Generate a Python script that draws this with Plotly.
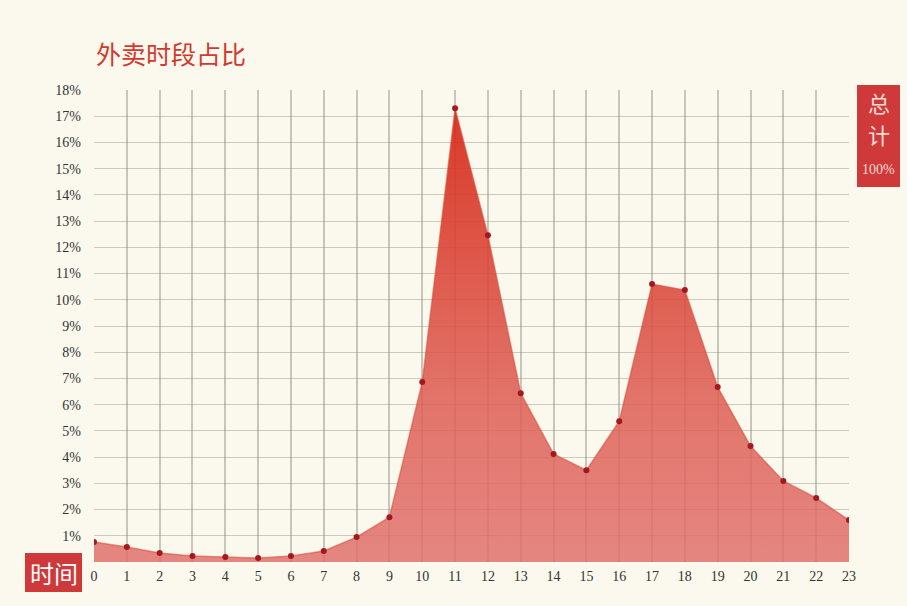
import plotly.graph_objects as go

hours = list(range(24))
share = [0.76, 0.57, 0.34, 0.23, 0.19, 0.15, 0.23, 0.42, 0.95, 1.71,
         6.86, 17.3, 12.46, 6.44, 4.12, 3.50, 5.37, 10.6, 10.37, 6.67,
         4.42, 3.09, 2.44, 1.60]
y_ticks = list(range(1, 19))
y_tick_text = [f"{v}%" for v in y_ticks]

BG = "#FBF9EE"
RED = "#D0393A"
TAG_TEXT = "#F6DCD4"

fig = go.Figure()
fig.add_trace(go.Scatter(
    x=hours, y=share, mode="lines+markers",
    line=dict(color="rgba(215,80,60,0.6)", width=1.5),
    marker=dict(color="#A3191F", size=6),
    fill="tozeroy",
    fillgradient=dict(
        type="vertical",
        colorscale=[[0, "rgba(224,112,108,0.84)"],
                    [0.35, "rgba(222,95,85,0.86)"],
                    [1, "rgba(214,40,22,0.92)"]],
    ),
    hoverinfo="skip",
))

fig.update_layout(
    width=907, height=606,
    paper_bgcolor=BG, plot_bgcolor=BG,
    margin=dict(l=94, r=58, t=90, b=44),
    showlegend=False,
    font=dict(family="Liberation Serif", size=14, color="#333333"),
    xaxis=dict(
        range=[0, 23], tickmode="array", tickvals=hours,
        ticktext=[str(h) for h in hours],
        showgrid=True, gridcolor="rgba(125,120,110,0.4)", gridwidth=1.6,
        zeroline=False, showline=False, ticks="", ticklabelstandoff=4,
        tickfont=dict(family="Liberation Serif", size=14, color="#333333"),
    ),
    yaxis=dict(
        range=[0, 18], tickmode="array", tickvals=y_ticks, ticktext=y_tick_text,
        showgrid=True, gridcolor="rgba(140,140,125,0.42)", gridwidth=1.4,
        zeroline=False, showline=False, ticks="", ticklabelstandoff=12,
        tickfont=dict(family="Liberation Serif", size=14, color="#333333"),
    ),
)

# title
fig.add_annotation(
    text="外卖时段占比", xref="paper", yref="paper", x=0.0, y=1.0,
    xanchor="left", yanchor="bottom", yshift=17, showarrow=False,
    font=dict(family="Noto Sans CJK SC", size=25, color="#D23A2E"),
)

# bottom-left "时间" tag
fig.add_shape(type="rect", xref="paper", yref="paper",
              x0=-69 / 755, x1=-12 / 755, y0=-30 / 472, y1=9 / 472,
              fillcolor=RED, line=dict(width=0), layer="above")
fig.add_annotation(
    text="时间", xref="paper", yref="paper", x=-40.5 / 755, y=-10.5 / 472,
    xanchor="center", yanchor="middle", showarrow=False,
    font=dict(family="Noto Sans CJK SC", size=24, color="white"),
)

# right-side total tag
fig.add_shape(type="rect", xref="paper", yref="paper",
              x0=1 + 8 / 755, x1=1 + 51 / 755, y0=1 - 97 / 472, y1=1 + 5 / 472,
              fillcolor=RED, line=dict(width=0), layer="above")
for ch, dy in (("总", 12), ("计", 44)):
    fig.add_annotation(
        text=ch, xref="paper", yref="paper", x=1 + 29.5 / 755, y=1 - dy / 472,
        xanchor="center", yanchor="middle", showarrow=False,
        font=dict(family="Noto Sans CJK SC", size=22, color=TAG_TEXT),
    )
fig.add_annotation(
    text="100%", xref="paper", yref="paper", x=1 + 29.5 / 755, y=1 - 79 / 472,
    xanchor="center", yanchor="middle", showarrow=False,
    font=dict(family="Liberation Serif", size=14, color=TAG_TEXT),
)

fig.write_html("out.html")
